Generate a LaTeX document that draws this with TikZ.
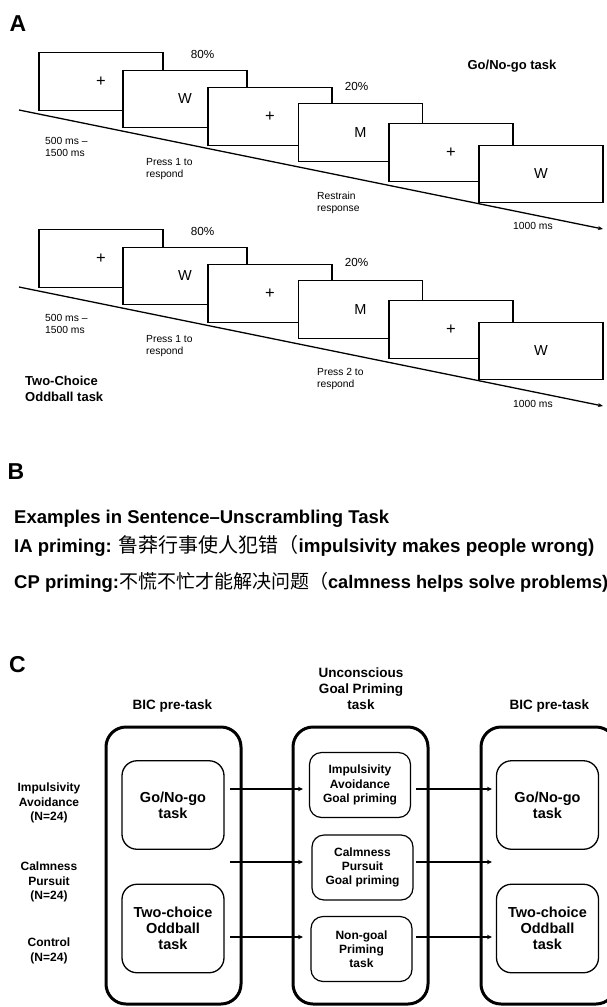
\documentclass[tikz,border=0pt]{standalone}
\usepackage{fontspec}
\setmainfont{Liberation Sans}
\newfontfamily\cjk{Noto Sans CJK SC}
\usetikzlibrary{arrows.meta}
\newcommand{\plussign}{{\fontsize{16.5}{16}\selectfont +}}
\begin{document}
\begin{tikzpicture}[x=1pt,y=-1pt,
  scr/.style={draw,line width=1.3pt,fill=white,minimum width=124pt,minimum height=57.5pt,inner sep=0pt,font=\fontsize{14.5}{16}\selectfont},
  sm/.style={anchor=north west,inner sep=0pt,align=left,font=\fontsize{10.3}{12}\selectfont},
  pct/.style={inner sep=0pt,font=\fontsize{11.7}{13}\selectfont},
  panel/.style={inner sep=0pt,font=\fontsize{23}{24}\selectfont\bfseries},
  tasklbl/.style={anchor=north west,inner sep=0pt,align=left,font=\fontsize{13}{16}\selectfont\bfseries},
  tl/.style={line width=1.3pt,-{Stealth[length=5pt,width=4pt]}},
  bline/.style={anchor=base west,inner sep=0pt,font=\fontsize{18.5}{20}\selectfont\bfseries},
  ctitle/.style={anchor=north,inner sep=0pt,align=center,font=\fontsize{13.5}{16}\selectfont\bfseries},
  grp/.style={anchor=north,inner sep=0pt,align=center,font=\fontsize{12}{14.5}\selectfont\bfseries},
  big/.style={draw,line width=3pt,rounded corners=20pt,minimum width=135pt,minimum height=277pt,inner sep=0pt},
  inbox/.style={draw,line width=1.3pt,rounded corners=15pt,minimum width=102pt,minimum height=88.5pt,inner sep=0pt,align=center,font=\fontsize{14.5}{16}\selectfont\bfseries},
  midbox/.style={draw,line width=1.2pt,rounded corners=12pt,minimum width=101pt,minimum height=65pt,inner sep=0pt,align=center,font=\fontsize{12}{14.3}\selectfont\bfseries},
  arr/.style={line width=1.5pt,-{Stealth[length=5pt,width=4.5pt]}}
]
\useasboundingbox (0,0) rectangle (606,1007);

% ---------- Panel A ----------
\node[panel] (pA) at (18,23.5) {A};

% Go/No-go row
\node[scr] (b1) at (101,81.5) {\plussign};
\node[scr] (b2) at (185,99) {W};
\node[scr] (b3) at (270,116.5) {\plussign};
\node[scr] (b4) at (360.5,132.5) {M};
\node[scr] (b5) at (451,152.5) {\plussign};
\node[scr] (b6) at (541,174) {W};
\coordinate (t1s) at (19,110);
\coordinate (t1e) at (603,229);
\draw[tl] (t1s) -- (t1e);
\node[pct] (p80a) at (202.5,54) {80\%};
\node[pct] (p20a) at (356.5,86) {20\%};
\node[inner sep=0pt,anchor=north,font=\fontsize{13}{15}\selectfont\bfseries] (gng) at (512,60) {Go/No-go task};
\node[sm] (d1a) at (45,137) {500 ms --\\1500 ms};
\node[sm] (r1a) at (146,158) {Press 1 to\\respond};
\node[sm] (r2a) at (317,192) {Restrain\\response};
\node[sm] (e1a) at (513,222) {1000 ms};

% Oddball row
\node[scr] (c1) at (101,258.5) {\plussign};
\node[scr] (c2) at (185,276) {W};
\node[scr] (c3) at (270,293.5) {\plussign};
\node[scr] (c4) at (360.5,309.5) {M};
\node[scr] (c5) at (451,329.5) {\plussign};
\node[scr] (c6) at (541,351) {W};
\coordinate (t2s) at (19,287);
\coordinate (t2e) at (603,406);
\draw[tl] (t2s) -- (t2e);
\node[pct] (p80b) at (202.5,231) {80\%};
\node[pct] (p20b) at (356.5,262.5) {20\%};
\node[sm] (d1b) at (45,314) {500 ms --\\1500 ms};
\node[sm] (r1b) at (146,335) {Press 1 to\\respond};
\node[sm] (r2b) at (317,368) {Press 2 to\\respond};
\node[sm] (e1b) at (513,400) {1000 ms};
\node[tasklbl] (odd) at (25,376) {Two-Choice\\Oddball task};

% ---------- Panel B ----------
\node[panel] (pB) at (16,472) {B};
\node[bline] (ex) at (14,523) {Examples in Sentence--Unscrambling Task};
\node[bline] (ia) at (14,552) {IA priming: {\cjk\mdseries\fontsize{20}{20}\selectfont 鲁莽行事使人犯错（}{\fontsize{18.8}{20}\selectfont impulsivity makes people wrong)}};
\node[bline] (cp) at (14,588) {CP priming:{\cjk\mdseries\fontsize{19}{20}\selectfont 不慌不忙才能解决问题（}{\fontsize{18.2}{20}\selectfont calmness helps solve problems)}};

% ---------- Panel C ----------
\node[panel] (pC) at (17.5,665) {C};
\node[ctitle] (bic1) at (172.5,700) {BIC pre-task};
\node[ctitle] (ugp) at (361,668) {Unconscious\\Goal Priming\\task};
\node[ctitle] (bic2) at (549.5,700) {BIC pre-task};

\node[big] (L) at (173.5,865.5) {};
\node[big] (M) at (360.5,865.5) {};
\node[big] (R) at (548.5,865.5) {};

\node[inbox] (lg1) at (173,805) {Go/No-go\\task};
\node[inbox] (lg2) at (173,928.5) {Two-choice\\Oddball\\task};
\node[inbox] (rg1) at (547.5,805) {Go/No-go\\task};
\node[inbox] (rg2) at (547.5,928.5) {Two-choice\\Oddball\\task};

\node[midbox] (m1) at (360,785) {Impulsivity\\Avoidance\\Goal priming};
\node[midbox] (m2) at (362.5,867.5) {Calmness\\Pursuit\\Goal priming};
\node[midbox] (m3) at (361.5,949) {Non-goal\\Priming\\task};

\node[grp] (g1) at (49,783) {Impulsivity\\Avoidance\\(N=24)};
\node[grp] (g2) at (49,862) {Calmness\\Pursuit\\(N=24)};
\node[grp] (g3) at (49,938) {Control\\(N=24)};

\coordinate (a1s) at (230,789); \coordinate (a1e) at (303,789);
\coordinate (a2s) at (230,862); \coordinate (a2e) at (303,862);
\coordinate (a3s) at (230,937); \coordinate (a3e) at (303,937);
\coordinate (b1s) at (416,789); \coordinate (b1e) at (492,789);
\coordinate (b2s) at (416,862); \coordinate (b2e) at (492,862);
\coordinate (b3s) at (416,937); \coordinate (b3e) at (492,937);
\draw[arr] (a1s) -- (a1e);
\draw[arr] (a2s) -- (a2e);
\draw[arr] (a3s) -- (a3e);
\draw[arr] (b1s) -- (b1e);
\draw[arr] (b2s) -- (b2e);
\draw[arr] (b3s) -- (b3e);
\end{tikzpicture}
\end{document}
